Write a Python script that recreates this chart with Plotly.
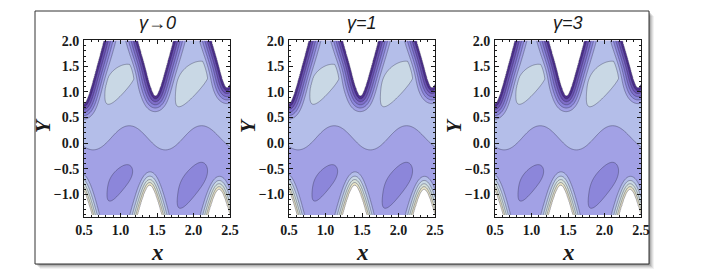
import numpy as np
import plotly.graph_objects as go

# ---------------- data ----------------
PANEL_TITLES = ["γ→0", "γ=1", "γ=3"]
X_TICKS = [0.5, 1.0, 1.5, 2.0, 2.5]
Y_TICKS = [-1.0, -0.5, 0.0, 0.5, 1.0, 1.5, 2.0]
X_LIMITS = [0.5, 2.5]
Y_LIMITS = [-1.4, 2.0]

# contour levels 0..9 ; colours of the 9 bands between them (low -> high)
LEVELS = list(range(10))
BAND_COLORS = ["#4e2f8e", "#6a51b3", "#7f6ec9", "#8c86da", "#a2a1e5",
               "#b4bee9", "#c9d8e5", "#d8e2da", "#ebe6c8"]

# plateau values below / above the wavy middle contour
LOW_PLATEAU = 4.5
HIGH_PLATEAU = 5.5
MID_LINE_Y = 0.105      # mean height of the middle contour
MID_SWING = 0.235       # half swing of the middle contour
MID_PEAK_X = 1.12       # x of its crests
WAVE_PERIOD = 0.99

# white region at the top (valley bottoms)
TOP_VALLEY_X = [0.50, 1.48, 2.46]
TOP_VALLEY_Y = [0.77, 0.92, 1.08]
TOP_BAND_DEPTH = 0.31
# white region at the bottom (arch tops)
BOTTOM_APEX_X = [0.45, 1.40, 2.35]
BOTTOM_APEX_Y = [-0.85, -0.82, -0.90]
BOTTOM_BAND_DEPTH = 0.26

# closed contours (islands)
TOP_BLOB_X = [0.97, 1.96]
TOP_BLOB_Y = [1.15, 1.16]
TOP_BLOB_HALF_H = [0.39, 0.44]
TOP_BLOB_HALF_W = [0.17, 0.19]
BOT_BLOB_X = [0.96, 1.95]
BOT_BLOB_Y = [-0.80, -0.86]
BOT_BLOB_HALF_H = [0.33, 0.41]
BOT_BLOB_HALF_W = [0.13, 0.15]

# ---------------- field built from the values above ----------------
x = np.linspace(X_LIMITS[0], X_LIMITS[1], 221)
y = np.linspace(Y_LIMITS[0], Y_LIMITS[1], 241)
X, Y = np.meshgrid(x, y)

mid = (LOW_PLATEAU + HIGH_PLATEAU) / 2
half = (HIGH_PLATEAU - LOW_PLATEAU) / 2
w_step = 0.3
env_w = 0.5
Z = mid + half * np.tanh((Y - MID_LINE_Y) / w_step)
m0 = half * np.tanh(MID_SWING / w_step) / np.exp(-(MID_SWING / env_w) ** 2)
Z = Z - m0 * np.exp(-((Y - MID_LINE_Y) / env_w) ** 2) * np.cos(
    2 * np.pi * (X - MID_PEAK_X) / WAVE_PERIOD)

TILT = 0.32


def blob(xc, yc, hh, hw, amp):
    v = Y - yc
    u = (X - xc) - TILT * v
    sv = hh / 1.1774
    su = hw / 1.1774 * (1 + 0.35 * np.tanh(v / sv))
    return amp * np.exp(-0.5 * (u / su) ** 2 - 0.5 * (v / sv) ** 2)


for xc, yc, hh, hw in zip(TOP_BLOB_X, TOP_BLOB_Y, TOP_BLOB_HALF_H, TOP_BLOB_HALF_W):
    Z = Z + blob(xc, yc, hh, hw, 1.0)
for xc, yc, hh, hw in zip(BOT_BLOB_X, BOT_BLOB_Y, BOT_BLOB_HALF_H, BOT_BLOB_HALF_W):
    Z = Z + blob(xc, yc, hh, hw, -1.0)


def wall_distance(xk, yk, k, r, up, fx):
    """signed (anisotropic) distance to a rounded V-shaped wall;
    negative on the white side."""
    xs = np.linspace(xk - 0.6, xk + 0.6, 301)
    ys = yk + up * k * (np.sqrt((xs - xk) ** 2 + r ** 2) - r)
    best = np.full(X.shape, np.inf)
    for xi, yi in zip(xs, ys):
        best = np.minimum(best, (fx * (X - xi)) ** 2 + (Y - yi) ** 2)
    dist = np.sqrt(best)
    yw = yk + up * k * (np.sqrt((X - xk) ** 2 + r ** 2) - r)
    inside = (Y > yw) if up > 0 else (Y < yw)
    return np.where(inside, -dist, dist)


def ramp(D, depth, drop, p):
    # 1 at the wall, drop/(full) at 'depth', 0 beyond the support
    L = depth / (1 - drop ** (1 / p))
    return np.clip(1 - D / L, 0, None) ** p


TOP_P = 1.2
for xk, yk in zip(TOP_VALLEY_X, TOP_VALLEY_Y):
    D = wall_distance(xk, yk, 5.6, 0.06, +1, 2.0)
    Z = Z - HIGH_PLATEAU * ramp(D, TOP_BAND_DEPTH, 0.5 / HIGH_PLATEAU, TOP_P)

top_level = LEVELS[-1]
BOT_P = 1.5
for xk, yk in zip(BOTTOM_APEX_X, BOTTOM_APEX_Y):
    D = wall_distance(xk, yk, 5.76, 0.09, -1, 2.8)
    Z = Z + (top_level - LOW_PLATEAU) * ramp(
        D, BOTTOM_BAND_DEPTH, 0.5 / (top_level - LOW_PLATEAU), BOT_P)

Z = np.clip(Z, LEVELS[0] - 0.5, LEVELS[-1] + 0.5)

# discrete colourscale: white outside the level range
cols = ["#ffffff"] + BAND_COLORS + ["#ffffff"]
n = len(cols) - 1
colorscale = []
for j, c in enumerate(cols):
    lo = max(0.0, (j - 0.5) / n)
    hi = min(1.0, (j + 0.5) / n)
    colorscale.append([lo, c])
    colorscale.append([hi, c])

# ---------------- figure ----------------
W, H = 717, 274
PANEL_LEFT = [84, 289, 495]
PANEL_W = 146
PLOT_TOP, PLOT_BOTTOM = 40, 217

fig = go.Figure()
ink = "#1a1a1a"
tickfont = dict(family="Liberation Serif", size=14, color=ink, weight="bold")

for i in range(3):
    sx = "" if i == 0 else str(i + 1)
    fig.add_trace(go.Contour(
        x=x, y=y, z=Z,
        xaxis="x" + sx, yaxis="y" + sx,
        autocontour=False,
        contours=dict(start=LEVELS[0], end=LEVELS[-1], size=1, coloring="fill"),
        colorscale=colorscale,
        line=dict(color="rgba(45,45,70,0.55)", width=0.7, smoothing=1),
        showscale=False, hoverinfo="skip",
    ))
    l = PANEL_LEFT[i]
    common = dict(showline=True, linecolor=ink, linewidth=1, mirror="ticks",
                  ticks="inside", ticklen=4, tickwidth=1, tickcolor=ink,
                  showgrid=False, zeroline=False, tickfont=tickfont,
                  automargin=False, tickformat=".1f",
                  minor=dict(ticks="inside", ticklen=2, dtick=0.1,
                             tickcolor=ink, showgrid=False))
    fig.layout["xaxis" + sx] = dict(
        common, domain=[l / W, (l + PANEL_W) / W], range=X_LIMITS,
        tickvals=X_TICKS, anchor="y" + sx, ticklabelstandoff=0)
    fig.layout["yaxis" + sx] = dict(
        common, domain=[1 - PLOT_BOTTOM / H, 1 - PLOT_TOP / H],
        range=[-1.44, 2.013], tickvals=Y_TICKS, anchor="x" + sx,
        ticklabelstandoff=1)

    cx = (l + PANEL_W / 2) / W
    fig.add_annotation(text="<i>" + PANEL_TITLES[i] + "</i>", x=cx, y=1 - 23 / H,
                       xref="paper", yref="paper", showarrow=False,
                       xanchor="center", yanchor="middle",
                       font=dict(family="Liberation Sans", size=18, color=ink))
    fig.add_annotation(text="<i>x</i>", x=cx, y=1 - 252 / H,
                       xref="paper", yref="paper", showarrow=False,
                       xanchor="center", yanchor="middle",
                       font=dict(family="Liberation Serif", size=23, color=ink,
                                 weight="bold"))
    fig.add_annotation(text="<i>Y</i>", x=(l - 41) / W, y=1 - 126 / H,
                       xref="paper", yref="paper", showarrow=False, textangle=-90,
                       xanchor="center", yanchor="middle",
                       font=dict(family="Liberation Serif", size=21, color=ink,
                                 weight="bold"))

# outer frame with a soft drop shadow
FRAME = [35, 11, 649, 264]
shapes = []
for k, a in zip([5, 4, 3, 2, 1], [0.05, 0.07, 0.09, 0.12, 0.16]):
    shapes.append(dict(type="rect", xref="paper", yref="paper", layer="below",
                       x0=(FRAME[0] + k) / W, x1=(FRAME[2] + k) / W,
                       y0=1 - (FRAME[3] + k) / H, y1=1 - (FRAME[1] + k) / H,
                       fillcolor=f"rgba(0,0,0,{a})", line=dict(width=0)))
shapes.append(dict(type="rect", xref="paper", yref="paper", layer="below",
                   x0=FRAME[0] / W, x1=FRAME[2] / W,
                   y0=1 - FRAME[3] / H, y1=1 - FRAME[1] / H,
                   fillcolor="white", line=dict(color="#333333", width=1)))

fig.update_layout(width=W, height=H, margin=dict(l=0, r=0, t=0, b=0),
                  paper_bgcolor="white", plot_bgcolor="rgba(0,0,0,0)",
                  showlegend=False, shapes=shapes)

fig.write_html("out.html", config={"displayModeBar": False},
               post_script="document.body.style.margin='0';"
                           "document.body.style.overflow='hidden';")
